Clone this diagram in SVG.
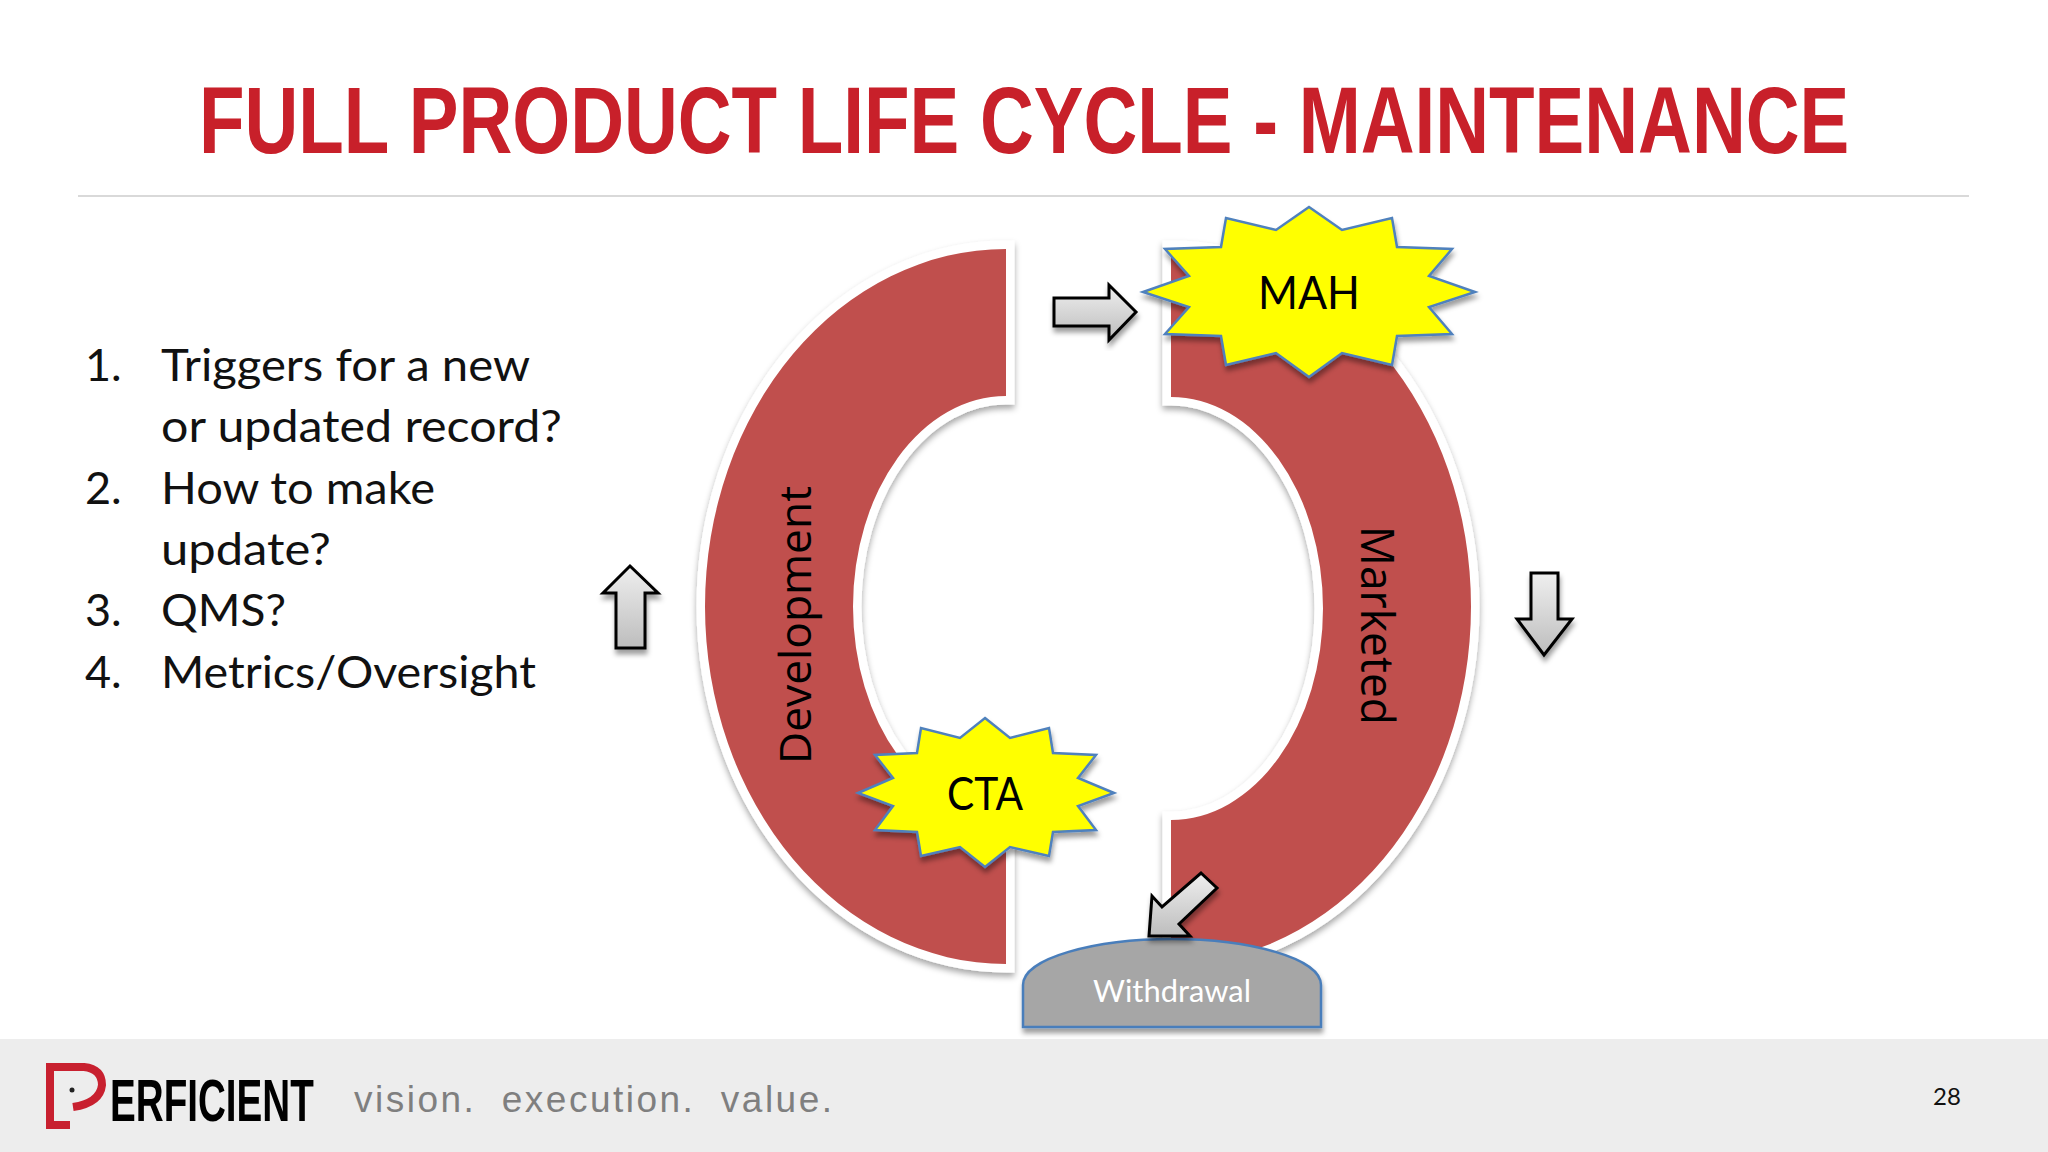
<svg xmlns="http://www.w3.org/2000/svg" width="2048" height="1152" viewBox="0 0 2048 1152">
<style>
.body{font-family:"Lato","Open Sans",sans-serif;fill:#111}
.arc{fill:#c0504d;stroke:#fff;stroke-width:17;stroke-linejoin:miter;paint-order:stroke;filter:url(#sh)}
.star{fill:#ff0;stroke:#4f81bd;stroke-width:2.5;filter:url(#sh2)}
.arrow{fill:url(#ag);stroke:#000;stroke-width:3;filter:url(#sh2)}
.lbl{font-family:"Open Sans","Lato",sans-serif;fill:#000}
</style>
<defs>
<linearGradient id="ag" x1="0" y1="0" x2="0" y2="1"><stop offset="0" stop-color="#efefef"/><stop offset="1" stop-color="#bdbdbd"/></linearGradient>
<filter id="sh" x="-10%" y="-10%" width="120%" height="120%"><feDropShadow dx="0" dy="4" stdDeviation="3" flood-color="#000" flood-opacity="0.35"/></filter>
<filter id="sh2" x="-15%" y="-15%" width="130%" height="135%"><feDropShadow dx="1" dy="5" stdDeviation="2.5" flood-color="#000" flood-opacity="0.38"/></filter>
</defs>
<rect width="2048" height="1152" fill="#fff"/>
<g id="title"><text transform="translate(199 153) scale(.72 1)" font-family="'Liberation Sans',sans-serif" font-weight="700" font-size="94" fill="#c8202a" textLength="2292" lengthAdjust="spacingAndGlyphs">FULL PRODUCT LIFE CYCLE - MAINTENANCE</text></g>
<rect x="78" y="195" width="1891" height="2" fill="#d9d9d9"/>
<g id="list" class="body" font-size="45">
<text x="85" y="381">1.</text><text x="161" y="381" textLength="369" lengthAdjust="spacingAndGlyphs">Triggers for a new</text>
<text x="161" y="442" textLength="401" lengthAdjust="spacingAndGlyphs">or updated record?</text>
<text x="85" y="504">2.</text><text x="161" y="504" textLength="274" lengthAdjust="spacingAndGlyphs">How to make</text>
<text x="161" y="565" textLength="170" lengthAdjust="spacingAndGlyphs">update?</text>
<text x="85" y="626">3.</text><text x="161" y="626" textLength="125" lengthAdjust="spacingAndGlyphs">QMS?</text>
<text x="85" y="688">4.</text><text x="161" y="688" textLength="375" lengthAdjust="spacingAndGlyphs">Metrics/Oversight</text>
</g>
<g id="development"><path class="arc" d="M1006 249A301 357.5 0 0 0 1006 964V817A153 210.5 0 0 1 1006 396Z"/>
<text class="lbl" transform="translate(811 764) rotate(-90)" font-size="44" textLength="278" lengthAdjust="spacingAndGlyphs">Development</text></g>
<g id="marketed"><path class="arc" d="M1171 249A300 357.5 0 0 1 1171 964V820A152 211.5 0 0 0 1171 397Z"/>
<text class="lbl" transform="translate(1361 526) rotate(90)" font-size="46" textLength="199" lengthAdjust="spacingAndGlyphs">Marketed</text></g>
<g id="withdrawal"><path d="M1023 1027V985C1023 958 1095 939 1172 939S1321 958 1321 985V1027Z" fill="#a6a6a6" stroke="#4a7ebb" stroke-width="2.5" filter="url(#sh2)"/>
<text x="1172" y="1002" text-anchor="middle" font-family="Lato,'Open Sans',sans-serif" font-size="31" fill="#fff" textLength="158" lengthAdjust="spacingAndGlyphs">Withdrawal</text></g>
<g id="mah"><polygon class="star" points="1309,207 1342,230 1392,218 1397,247 1452,249 1429,276 1475,292 1429,307 1452,334 1397,336 1392,365 1342,353 1309,377 1276,353 1226,365 1221,336 1165,334 1189,307 1143,292 1189,276 1165,249 1221,247 1226,218 1276,230"/>
<text x="1309" y="309" text-anchor="middle" font-family="Lato,'Open Sans',sans-serif" font-size="46" fill="#000" textLength="102" lengthAdjust="spacingAndGlyphs">MAH</text></g>
<g id="cta"><polygon class="star" points="985,718 1010,738 1049,728 1053,753 1096,755 1078,778 1114,793 1078,806 1096,830 1053,832 1049,856 1010,847 985,867 960,847 921,856 917,832 875,830 893,806 858,793 893,778 875,755 917,753 921,728 960,738"/>
<text x="985" y="810" text-anchor="middle" font-family="Lato,'Open Sans',sans-serif" font-size="46" fill="#000" textLength="76" lengthAdjust="spacingAndGlyphs">CTA</text></g>
<g id="connectors">
<polygon class="arrow" points="1054,298 1109,298 1109,285 1136,312 1109,340 1109,326 1054,326"/>
<polygon class="arrow" points="1531,573 1558,573 1558,619 1572,619 1544,655 1517,619 1531,619"/>
<polygon class="arrow" points="630,566 658,593 645,593 645,648 616,648 616,593 603,593"/>
<polygon class="arrow" points="1201,873 1217,888 1179,924 1190,936 1149,936 1152,896 1162,907"/>
</g>
<g id="footer">
<rect y="1039" width="2048" height="113" fill="#ededed"/>
<path d="M60 1067H84Q102 1069 102 1085Q100 1103 73 1107" fill="none" stroke="#c8202f" stroke-width="8"/>
<path d="M70 1125H50V1067H60" fill="none" stroke="#c8202f" stroke-width="8"/>
<circle cx="72" cy="1090" r="2.5" fill="#222"/>
<text transform="translate(110 1121) scale(.643 1)" font-family="'Liberation Sans',sans-serif" font-weight="700" font-size="60" fill="#000" textLength="317" lengthAdjust="spacingAndGlyphs">ERFICIENT</text>
<text x="354" y="1112" font-family="'Liberation Sans',sans-serif" font-size="37" fill="#7f7f7f" textLength="478" lengthAdjust="spacing" xml:space="preserve">vision.  execution.  value.</text>
<text x="1947" y="1105" text-anchor="middle" font-family="Lato,sans-serif" font-size="24" fill="#111">28</text>
</g>
</svg>
